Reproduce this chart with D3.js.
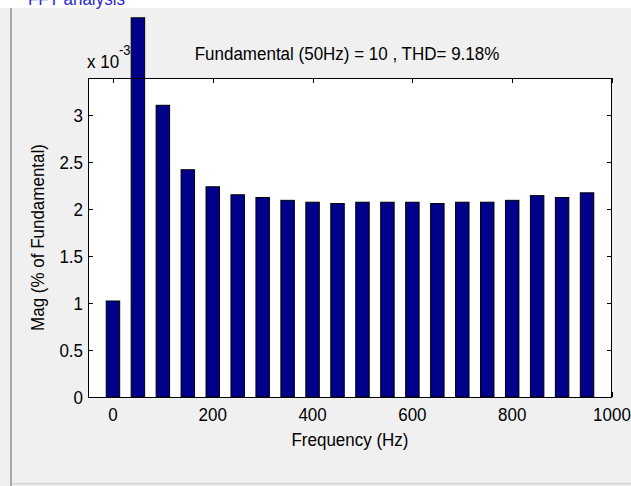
<!DOCTYPE html>
<html>
<head>
<meta charset="utf-8">
<script src="https://cdn.jsdelivr.net/npm/d3@7"></script>
<style>
  html, body { margin: 0; padding: 0; background: #f0f0f0; }
  svg { display: block; }
  text { font-family: "Liberation Sans", Arial, sans-serif; fill: #000; }
</style>
</head>
<body>
<svg id="chart" width="631" height="486"></svg>
<script>
// ---- data ----
const frequencies = [0, 50, 100, 150, 200, 250, 300, 350, 400, 450, 500, 550, 600, 650, 700, 750, 800, 850, 900, 950];
const magnitudes = [1.02, 4.03, 3.10, 2.415, 2.234, 2.149, 2.12, 2.09, 2.07, 2.056, 2.07, 2.07, 2.07, 2.056, 2.07, 2.07, 2.09, 2.14, 2.12, 2.17]; // x 1e-3
const xTicks = [0, 200, 400, 600, 800, 1000];
const yTicks = [0, 0.5, 1, 1.5, 2, 2.5, 3];
const titleText = "Fundamental (50Hz) = 10 , THD= 9.18%";
const xLabel = "Frequency (Hz)";
const yLabel = "Mag (% of Fundamental)";
const windowTitle = "FFT analysis";

// ---- layout ----
const svg = d3.select("#chart");
const W = 631, H = 486;
const plot = { left: 88, right: 612, top: 78, bottom: 397 };
const fs = 17;
const sy = 1.12; // vertical stretch of the condensed-looking font

function label(parent, px, py, str, anchor, rot) {
  const g = parent.append("g")
    .attr("transform", `translate(${px},${py})` + (rot ? ` rotate(${rot})` : "") + ` scale(1,${sy})`);
  return g.append("text").attr("x", 0).attr("y", 0)
    .attr("text-anchor", anchor || "start").attr("font-size", fs).text(str);
}

// window frame
svg.append("rect").attr("x", 0).attr("y", 0).attr("width", W).attr("height", H).attr("fill", "#f0f0f0");
svg.append("rect").attr("x", 0).attr("y", 0).attr("width", W).attr("height", 8).attr("fill", "#ffffff");
label(svg, 28, 5, windowTitle).style("fill", "#2a2ad0");
svg.append("rect").attr("x", 10).attr("y", 8).attr("width", 2).attr("height", H - 8).attr("fill", "#a8a8a8");
svg.append("rect").attr("x", 12).attr("y", 483).attr("width", W - 12).attr("height", 1.5).attr("fill", "#d4d4d4");

const x = d3.scaleLinear().domain([-50, 1000]).range([plot.left, plot.right]);
const y = d3.scaleLinear().domain([0, 3.39]).range([plot.bottom, plot.top]);

// plot background
svg.append("rect")
  .attr("x", plot.left).attr("y", plot.top)
  .attr("width", plot.right - plot.left).attr("height", plot.bottom - plot.top)
  .attr("fill", "#ffffff");

// ticks (inward, mirrored on all sides)
const tl = 5;
const axisG = svg.append("g").attr("stroke", "#000").attr("stroke-width", 1).attr("shape-rendering", "crispEdges");
xTicks.forEach(t => {
  const px = Math.round(x(t)) + 0.5;
  axisG.append("line").attr("x1", px).attr("x2", px).attr("y1", plot.bottom).attr("y2", plot.bottom - tl);
  axisG.append("line").attr("x1", px).attr("x2", px).attr("y1", plot.top).attr("y2", plot.top + tl);
});
yTicks.forEach(t => {
  const py = Math.round(y(t)) + 0.5;
  axisG.append("line").attr("x1", plot.left).attr("x2", plot.left + tl).attr("y1", py).attr("y2", py);
  axisG.append("line").attr("x1", plot.right).attr("x2", plot.right - tl).attr("y1", py).attr("y2", py);
});

// bars
const barW = x(27) - x(0);
svg.append("g").selectAll("rect")
  .data(frequencies.map((f, i) => ({ f, v: magnitudes[i] })))
  .join("rect")
  .attr("x", d => x(d.f) - barW / 2)
  .attr("y", d => y(d.v))
  .attr("width", barW)
  .attr("height", d => y(0) - y(d.v))
  .attr("fill", "#00008b")
  .attr("stroke", "#000")
  .attr("stroke-width", 1);

// axes box
svg.append("rect")
  .attr("x", plot.left + 0.5).attr("y", plot.top + 0.5)
  .attr("width", plot.right - plot.left - 1).attr("height", plot.bottom - plot.top)
  .attr("fill", "none").attr("stroke", "#000").attr("stroke-width", 1)
  .attr("shape-rendering", "crispEdges");

// tick labels
const xl = svg.append("g");
xTicks.forEach(t => label(xl, x(t), 421, d3.format("d")(t), "middle"));
const yl = svg.append("g");
yTicks.forEach(t => label(yl, 83, y(t) + 7, d3.format("")(t), "end"));

// exponent label
label(svg, 87, 68, "x 10");
label(svg, 119, 55, "-3").attr("font-size", 13);

// title
label(svg, 347, 60, titleText, "middle");

// x label
label(svg, 350, 446, xLabel, "middle");

// y label
label(svg, 44, (plot.top + plot.bottom) / 2, yLabel, "middle", -90);
</script>
</body>
</html>
